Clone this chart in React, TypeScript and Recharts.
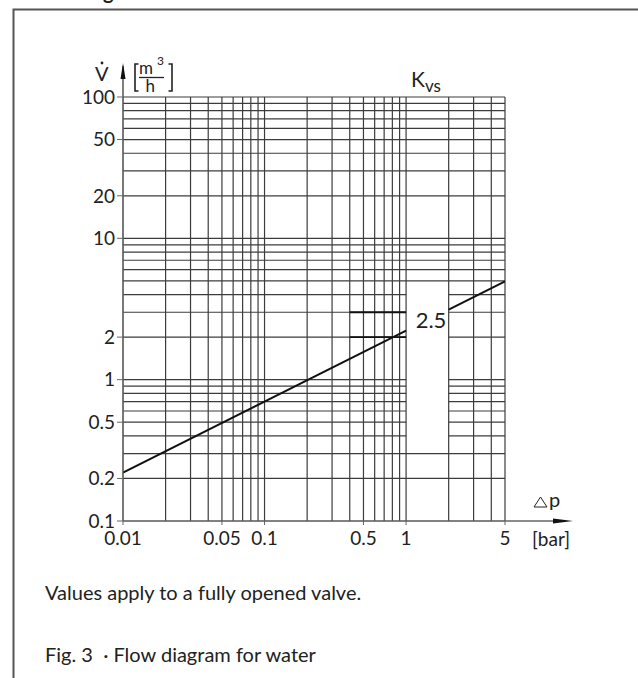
import { LineChart, Line, XAxis, YAxis, ReferenceLine, ReferenceDot } from "recharts";

// pressure drop [bar] and flow [m3/h];
// the null leaves the gap where the "2.5" label sits
const pressureDrop = [0.01, 1, 1.5, 2, 5];
const flowRate = [0.22, 2.22, null, 3.13, 4.95];

const xTicks = [0.01, 0.05, 0.1, 0.5, 1, 5];
const yTicks = [0.1, 0.2, 0.5, 1, 2, 10, 20, 50, 100];

const xGrid = [
  0.01, 0.02, 0.03, 0.04, 0.05, 0.06, 0.07, 0.08, 0.09,
  0.1, 0.2, 0.3, 0.4, 0.5, 0.6, 0.7, 0.8, 0.9,
  1, 2, 3, 4, 5,
];
const yGrid = [
  0.1, 0.2, 0.3, 0.4, 0.5, 0.6, 0.7, 0.8, 0.9,
  1, 2, 3, 4, 5, 6, 7, 8, 9,
  10, 20, 30, 40, 50, 60, 70, 80, 90, 100,
];

// short bold marks at 2 and 3 m3/h between 0.4 and 1 bar
const markFlows = [2, 3];
const kvsLabel = "2.5";

const data = pressureDrop.map((dp, i) => ({ dp, q: flowRate[i] }));

// blank window in the grid around the Kvs label
const gapX = [1, 2];
const gapY = [0.34, 4.8];

const FONT = "Lato, 'DejaVu Sans', sans-serif";
const GRID = "#3c3c3c";
const W = 638;
const H = 678;

const fmt = (v: number) => String(v);

export default function App() {
  return (
    <div style={{ position: "absolute", left: 0, top: 0, width: W, height: H, background: "#fff" }}>
      <LineChart
        width={W}
        height={H}
        data={data}
        margin={{ top: 97, right: 133, bottom: 127, left: 63 }}
      >
        <XAxis
          dataKey="dp"
          type="number"
          scale="log"
          domain={[0.01, 5]}
          allowDataOverflow
          ticks={xTicks}
          tickFormatter={fmt}
          interval={0}
          height={30}
          stroke="#666"
          tickSize={4}
          tickMargin={7}
          tick={{ fill: "#222", fontSize: 19, fontFamily: FONT }}
        />
        <YAxis
          dataKey="q"
          type="number"
          scale="log"
          domain={[0.1, 100]}
          allowDataOverflow
          ticks={yTicks}
          tickFormatter={fmt}
          interval={0}
          width={60}
          stroke="#666"
          tickSize={6}
          tickMargin={2}
          tick={{ fill: "#222", fontSize: 19, fontFamily: FONT }}
        />
        {xGrid.map((v) => (
          <ReferenceLine key={"x" + v} x={v} stroke={GRID} strokeWidth={1.2} />
        ))}
        {yGrid.map((v) =>
          v > gapY[0] && v < gapY[1] ? (
            [
              <ReferenceLine
                key={"ya" + v}
                segment={[{ x: 0.01, y: v }, { x: gapX[0], y: v }]}
                stroke={GRID}
                strokeWidth={1.2}
              />,
              <ReferenceLine
                key={"yb" + v}
                segment={[{ x: gapX[1], y: v }, { x: 5, y: v }]}
                stroke={GRID}
                strokeWidth={1.2}
              />,
            ]
          ) : (
            <ReferenceLine key={"y" + v} y={v} stroke={GRID} strokeWidth={1.2} />
          )
        )}
        {markFlows.map((v) => (
          <ReferenceLine
            key={"m" + v}
            segment={[{ x: 0.4, y: v }, { x: 1, y: v }]}
            stroke="#111"
            strokeWidth={1.8}
          />
        ))}
        <Line
          dataKey="q"
          type="linear"
          stroke="#111"
          strokeWidth={2}
          dot={false}
          connectNulls={false}
          isAnimationActive={false}
        />
        <ReferenceDot
          x={1.5}
          y={2.64}
          r={0}
          ifOverflow="visible"
          shape={(p: any) => (
            <text
              x={p.cx}
              y={p.cy + 8}
              textAnchor="middle"
              fontSize={22}
              fontFamily={FONT}
              fill="#222"
            >
              {kvsLabel}
            </text>
          )}
        />
      </LineChart>

      <svg
        width={W}
        height={H}
        style={{ position: "absolute", left: 0, top: 0, pointerEvents: "none" }}
        fontFamily={FONT}
        fill="#222"
      >
        <text x={103} y={-1} fontSize={20} fontWeight={700}>g</text>
        <path d="M13.5,678 V9.5 H638" fill="none" stroke="#555" strokeWidth={2} />

        {/* y axis arrow and title */}
        <line x1={123} y1={97} x2={123} y2={66} stroke="#555" strokeWidth={1.5} />
        <polygon points="123,63 125.5,79 120.5,79" fill="#111" />
        <text x={95} y={81} fontSize={20}>V</text>
        <circle cx={102} cy={63} r={1.4} fill="#222" />
        <path d="M138.5,64 H135 V91 H138.5" fill="none" stroke="#222" strokeWidth={1.6} />
        <path d="M168.5,64 H172 V91 H168.5" fill="none" stroke="#222" strokeWidth={1.6} />
        <text x={139} y={74} fontSize={17}>m</text>
        <text x={157} y={65} fontSize={12}>3</text>
        <line x1={139} y1={77.5} x2={164} y2={77.5} stroke="#222" strokeWidth={1.3} />
        <text x={145.5} y={92} fontSize={17}>h</text>

        {/* Kvs title */}
        <text x={411} y={87} fontSize={21}>K</text>
        <text x={425} y={92} fontSize={17}>vs</text>

        {/* x axis arrow and title */}
        <line x1={505} y1={521} x2={560} y2={521} stroke="#666" strokeWidth={1.5} />
        <polygon points="573,521 553,518.5 553,523.5" fill="#111" />
        <polygon points="534,507 547,507 540.5,497" fill="none" stroke="#222" strokeWidth={1} />
        <text x={549} y={507} fontSize={20}>p</text>
        <text x={532} y={546} fontSize={19}>[bar]</text>

        {/* caption */}
        <text x={45} y={600} fontSize={20}>Values apply to a fully opened valve.</text>
        <text x={45} y={662} fontSize={20} style={{ whiteSpace: "pre" }}>
          {"Fig. 3  · Flow diagram for water"}
        </text>
      </svg>
    </div>
  );
}
